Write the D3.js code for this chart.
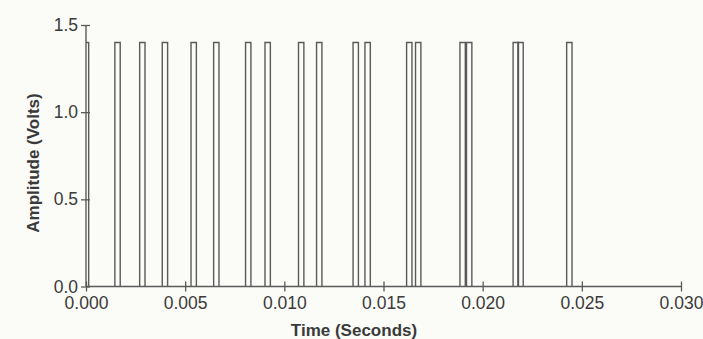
<!DOCTYPE html>
<html>
<head>
<meta charset="utf-8">
<script src="https://cdn.jsdelivr.net/npm/d3@7"></script>
<style>
  html, body { margin: 0; padding: 0; background: #fbfbf8; }
  svg { display: block; }
  text { font-family: "Liberation Sans", Arial, Helvetica, sans-serif; fill: #3a3a3a; }
</style>
</head>
<body>
<svg id="chart" width="703" height="339"></svg>
<script>
// Pulse centre times (seconds)
const pulseTimes = [0.0000, 0.00159, 0.00284, 0.00398, 0.00543, 0.00657, 0.00818, 0.00916,
  0.01085, 0.01176, 0.01360, 0.01420, 0.01630, 0.01675, 0.01899, 0.01932,
  0.02167, 0.02191, 0.02437];
const pulseWidth = 0.00027;       // seconds
const pulseAmplitude = 1.4;       // volts
const xTicks = [0.000, 0.005, 0.010, 0.015, 0.020, 0.025, 0.030];
const yTicks = [0.0, 0.5, 1.0, 1.5];
const xTitle = "Time (Seconds)";
const yTitle = "Amplitude (Volts)";

const svg = d3.select("#chart");
const x = d3.scaleLinear().domain([0, 0.030]).range([86, 681]);
const y = d3.scaleLinear().domain([0, 1.5]).range([286.5, 25]);
const ink = "#5a5a5a";

svg.append("defs").append("clipPath").attr("id", "plotclip")
  .append("rect").attr("x", x(0)).attr("y", 0).attr("width", x(0.03) - x(0)).attr("height", 339);

// pulses: each drawn as its own open rectangle
const line = d3.line().x(d => x(d[0])).y(d => y(d[1]));
const g = svg.append("g").attr("clip-path", "url(#plotclip)");
g.selectAll("path.pulse").data(pulseTimes).join("path")
  .attr("class", "pulse")
  .attr("fill", "none")
  .attr("stroke", ink)
  .attr("stroke-width", 1.4)
  .attr("d", t => line([[t - pulseWidth / 2, 0], [t - pulseWidth / 2, pulseAmplitude],
                        [t + pulseWidth / 2, pulseAmplitude], [t + pulseWidth / 2, 0]]));

// x axis
const xAxis = svg.append("g").attr("transform", `translate(0,${y(0)})`)
  .call(d3.axisBottom(x).tickValues(xTicks).tickFormat(d3.format(".3f")).tickSize(5).tickPadding(3));
xAxis.select(".domain").attr("stroke", ink).attr("stroke-width", 1.4).attr("d", `M${x(0)},0H${x(0.03)}`);
xAxis.selectAll(".tick line").attr("stroke", ink).attr("stroke-width", 1.3).attr("y1", -5).attr("y2", 5);
xAxis.selectAll(".tick text").attr("font-size", 17.5).attr("fill", "#3a3a3a").attr("dy", "0.85em")
  .style("font-family", '"Liberation Sans", Arial, sans-serif');

// y axis
const yAxis = svg.append("g").attr("transform", `translate(${x(0)},0)`)
  .call(d3.axisLeft(y).tickValues(yTicks).tickFormat(d3.format(".1f")).tickSize(5).tickPadding(3));
yAxis.select(".domain").attr("stroke", ink).attr("stroke-width", 1.4).attr("d", `M0,${y(0)}V${y(1.5)}`);
yAxis.selectAll(".tick line").attr("stroke", ink).attr("stroke-width", 1.3).attr("x1", 4).attr("x2", -5);
yAxis.selectAll(".tick text").attr("font-size", 17.5).attr("fill", "#3a3a3a")
  .style("font-family", '"Liberation Sans", Arial, sans-serif');

// titles
svg.append("text").attr("x", 354).attr("y", 336).attr("text-anchor", "middle")
  .attr("font-size", 17).attr("font-weight", "bold").text(xTitle);
svg.append("text").attr("transform", "translate(39,163) rotate(-90)").attr("text-anchor", "middle")
  .attr("font-size", 17).attr("font-weight", "bold").text(yTitle);
</script>
</body>
</html>
